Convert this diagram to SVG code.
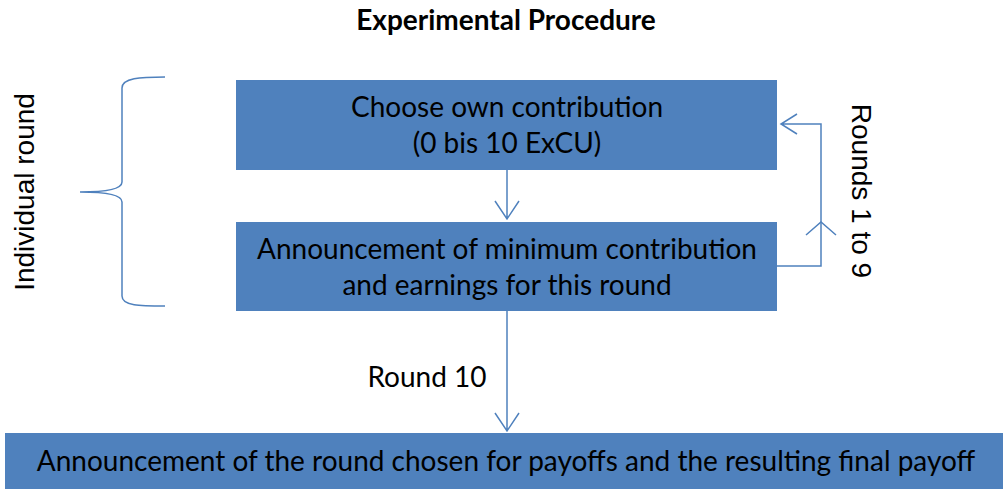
<svg xmlns="http://www.w3.org/2000/svg" width="1005" height="489" viewBox="0 0 1005 489">
<style>
.box{fill:#4F81BD;}
.t{font-family:Lato,"Open Sans","Liberation Sans",sans-serif;font-size:28px;fill:#000;text-anchor:middle;}
.line{fill:none;stroke:#4F81BD;stroke-width:1.5;}
.v{font-family:"Liberation Sans",Arial,sans-serif;font-size:28px;fill:#000;text-anchor:middle;}
</style>
<rect width="1005" height="489" fill="#fff"/>
<text x="506" y="30" class="t" style="font-weight:bold">Experimental Procedure</text>
<g id="connectors">
<path class="line" d="M507,170 V219 M495,201 L507,219 L519,201"/>
<path class="line" d="M507,311 V431 M495,413 L507,431 L519,413"/>
<path class="line" d="M777,266 H821 V124 H781 M797,114 L781,124 L797,134"/>
<path class="line" d="M806,235 L821,222 L836,235"/>
</g>
<g id="brace">
<path class="line" d="M165,77 C140,77 122,78 122,88 V182 C122,190 100,192 80,192 C100,192 122,194 122,202 V296 C122,306 140,306 165,306"/>
</g>
<g id="individual-round">
<text class="v" transform="translate(34,192) rotate(-90)">Individual round</text>
</g>
<g id="rounds-1-9">
<text class="v" transform="translate(852,191) rotate(90)">Rounds 1 to 9</text>
</g>
<g id="round-10">
<text class="t" x="427" y="387">Round 10</text>
</g>
<g id="choose">
<rect class="box" x="236" y="80" width="541" height="90"/>
<text class="t" x="507" y="117">Choose own contribution</text>
<text class="t" x="507" y="153">(0 bis 10 ExCU)</text>
</g>
<g id="announce-min">
<rect class="box" x="236" y="222" width="541" height="89"/>
<text class="t" x="507" y="259">Announcement of minimum contribution</text>
<text class="t" x="507" y="295">and earnings for this round</text>
</g>
<g id="final">
<rect class="box" x="5" y="433" width="998" height="56"/>
<text class="t" x="506" y="471">Announcement of the round chosen for payoffs and the resulting final payoff</text>
</g>
</svg>
